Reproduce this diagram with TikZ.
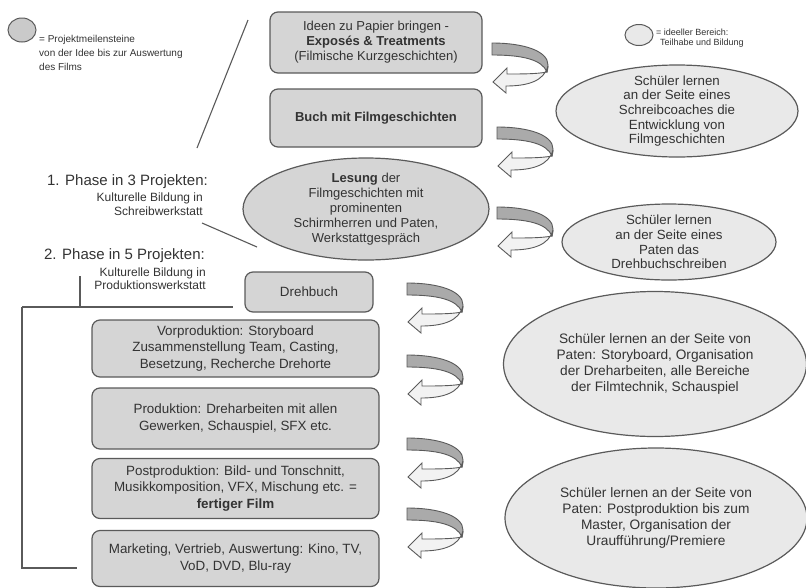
\documentclass[tikz,border=0pt]{standalone}
\usepackage{fontspec}
\setmainfont{Liberation Sans}
\usepackage{tikz}
\usetikzlibrary{arrows,shapes.geometric,positioning}

\definecolor{txtgray}{HTML}{333333}
\definecolor{linegray}{HTML}{5A5A5A}
\definecolor{boxgray}{HTML}{D5D5D5}
\definecolor{idealgray}{HTML}{E9E9E9}
\definecolor{bandgray}{HTML}{AAAAAA}

\tikzset{
  ribbon/.pic={
    \filldraw[fill=bandgray,draw=linegray,line width=0.9pt]
      (0,0) .. controls (32,0) and (56,8) .. (56,22) .. controls (56,25) and (55.5,27) .. (55,29)
      .. controls (50,17) and (32,12) .. (0,12) -- cycle;
    \filldraw[fill=white!95!black,draw=linegray,line width=0.9pt]
      (55,29) .. controls (45,31) and (30,31) .. (15,31) -- (15,25) -- (1,39) -- (14,50) -- (14,43)
      .. controls (36,43) and (52,38) .. (56,23) -- cycle;
  }
}

\begin{document}
\begin{tikzpicture}[x=1pt,y=-1pt,node distance=70pt,
    every node/.style={text=txtgray},
    milestone/.style={draw=linegray,fill=boxgray,line width=1.2pt,rounded corners=8pt,
      align=center,inner sep=0pt,font=\fontsize{13}{15}\selectfont},
    workbox/.style={milestone,minimum width=287pt,font=\fontsize{13.4}{16.5}\selectfont},
    reading/.style={ellipse,draw=linegray,fill=boxgray,line width=1.2pt,align=center,
      inner sep=-20pt,font=\fontsize{13}{15}\selectfont},
    ideal/.style={ellipse,draw=linegray,fill=idealgray,line width=1.2pt,align=center,
      inner sep=-20pt,font=\fontsize{13.3}{14.7}\selectfont},
    idealbig/.style={ideal,font=\fontsize{13.7}{16}\selectfont},
    legend/.style={align=left,inner sep=0pt,font=\fontsize{10}{14}\selectfont},
    phase/.style={inner sep=0pt,font=\fontsize{15}{18}\selectfont},
    workshop/.style={align=right,inner sep=0pt,font=\fontsize{12}{13.5}\selectfont}]

  \useasboundingbox (0,0) rectangle (806,587);

  % legends
  \node[ellipse,draw=linegray,fill=boxgray!95!black,line width=1pt,minimum width=28pt,minimum height=24pt,inner sep=0pt] (legmile) at (22,30) {};
  \node[legend,anchor=west] (legmiletxt) at (39,53) {= Projektmeilensteine\\von der Idee bis zur Auswertung\\des Films};
  \node[ellipse,draw=linegray,fill=idealgray,line width=1pt,minimum width=28pt,minimum height=21pt,inner sep=0pt] (legideal) at (639,35) {};
  \node[legend,anchor=west,font=\fontsize{9}{10.5}\selectfont] (legidealtxt) at (656,38) {= ideeller Bereich:\\\hspace*{4pt}Teilhabe und Bildung};

  % phase 1
  \node[milestone,minimum width=212pt,minimum height=61pt] (ideen) at (376,42.5)
    {Ideen zu Papier bringen -\\\textbf{Exposés \& Treatments}\\(Filmische Kurzgeschichten)};
  \node[milestone,minimum width=212pt,minimum height=58pt] (buch) at (376,118)
    {\textbf{Buch mit Filmgeschichten}};
  \node[reading,minimum width=246pt,minimum height=102pt] (lesung) at (366,209)
    {\textbf{Lesung} der\\Filmgeschichten mit\\prominenten\\Schirmherren und Paten,\\Werkstattgespräch};

  \node[ideal,minimum width=242pt,minimum height=92pt] (coach) at (677,111)
    {Schüler lernen\\an der Seite eines\\Schreibcoaches die\\Entwicklung von\\Filmgeschichten};
  \node[ideal,minimum width=214pt,minimum height=76pt] (paten) at (669,242)
    {Schüler lernen\\an der Seite eines\\Paten das\\Drehbuchschreiben};

  \node[phase,anchor=east] (phase1) at (208,182) {1. Phase in 3 Projekten:};
  \node[workshop,anchor=east] (werk1) at (203,204) {Kulturelle Bildung in\\Schreibwerkstatt};

  % phase 2
  \node[phase,anchor=east] (phase2) at (205,256) {2. Phase in 5 Projekten:};
  \node[workshop,anchor=east] (werk2) at (206,278.5) {Kulturelle Bildung in\\Produktionswerkstatt};

  \node[milestone,minimum width=128pt,minimum height=40pt,font=\fontsize{13.4}{16}\selectfont] (drehbuch) at (309,292) {Drehbuch};
  \node[workbox,minimum height=57pt] (vorprod) at (235.5,348.5)
    {Vorproduktion: Storyboard\\Zusammenstellung Team, Casting,\\Besetzung, Recherche Drehorte};
  \node[workbox,minimum height=61pt] (prod) [below of=vorprod]
    {Produktion: Dreharbeiten mit allen\\Gewerken, Schauspiel, SFX etc.};
  \node[workbox,minimum height=60pt] (postprod) [below of=prod]
    {Postproduktion: Bild- und Tonschnitt,\\Musikkomposition, VFX, Mischung etc. =\\\textbf{fertiger Film}};
  \node[workbox,minimum height=56pt] (marketing) [below of=postprod]
    {Marketing, Vertrieb, Auswertung: Kino, TV,\\VoD, DVD, Blu-ray};

  \node[idealbig,minimum width=303pt,minimum height=145pt] (drehpaten) at (655,364)
    {Schüler lernen an der Seite von\\Paten: Storyboard, Organisation\\der Dreharbeiten, alle Bereiche\\der Filmtechnik, Schauspiel};
  \node[idealbig,minimum width=302pt,minimum height=140pt] (postpaten) at (656,518)
    {Schüler lernen an der Seite von\\Paten: Postproduktion bis zum\\Master, Organisation der\\Uraufführung/Premiere};

  % ribbons
  \pic at (492,43) {ribbon};
  \pic at (497,127) {ribbon};
  \pic at (497,207) {ribbon};
  \pic at (407,283) {ribbon};
  \pic at (407,355) {ribbon};
  \pic at (407,438) {ribbon};
  \pic at (407,508) {ribbon};

  % lines
  \coordinate (s1) at (248,20);
  \coordinate (s2) at (197,148);
  \coordinate (t1) at (202,223);
  \coordinate (t2) at (257,247);
  \coordinate (tick) at (80,276);
  \coordinate (hl) at (22,307);
  \coordinate (hr) at (233,307);
  \coordinate (br) at (77,568);

  \path[draw=linegray,line width=1.1pt]
           (s1) edge (s2)
           (t1) edge (t2)
           (tick) edge (tick |- hl)
           (hl) edge (hr);
  \draw[linegray,line width=1.1pt] (hl) -- (hl |- br) -- (br);

\end{tikzpicture}
\end{document}
